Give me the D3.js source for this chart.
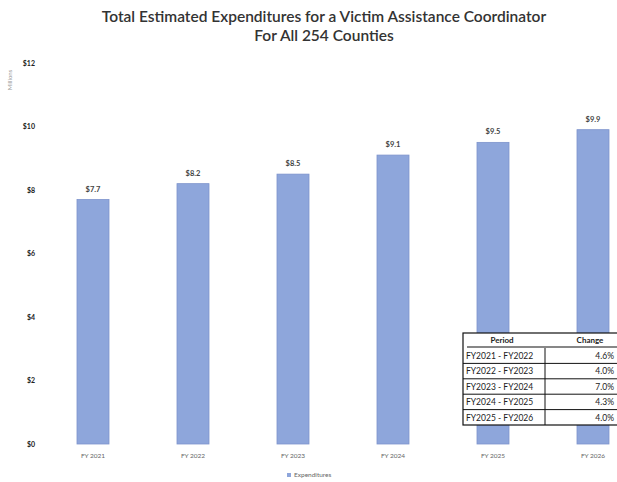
<!DOCTYPE html>
<html>
<head>
<meta charset="utf-8">
<script src="https://cdn.jsdelivr.net/npm/d3@7"></script>
<style>
  html, body { margin: 0; padding: 0; background: #fff; }
  svg { display: block; }
  text { font-family: Lato, "Open Sans", sans-serif; }
</style>
</head>
<body>
<svg id="chart" width="617" height="482"></svg>
<script>
// Annual totals, in millions of dollars
const years = ["FY 2021", "FY 2022", "FY 2023", "FY 2024", "FY 2025", "FY 2026"];
const expenditures = [7.7, 8.2, 8.5, 9.1, 9.5, 9.9];
const valueLabels = ["$7.7", "$8.2", "$8.5", "$9.1", "$9.5", "$9.9"];
const yTicks = [0, 2, 4, 6, 8, 10, 12];

// Year-over-year change table
const periods = ["FY2021 - FY2022", "FY2022 - FY2023", "FY2023 - FY2024", "FY2024 - FY2025", "FY2025 - FY2026"];
const changes = ["4.6%", "4.0%", "7.0%", "4.3%", "4.0%"];

const svg = d3.select("#chart");

const x = d3.scaleBand().domain(years).range([43, 643]).paddingInner(0.68).paddingOuter(0.34);
const y = d3.scaleLinear().domain([0, 12]).range([444, 63]);

// Title
const title = svg.append("g").attr("text-anchor", "middle")
  .style("font-family", "'Open Sans', sans-serif")
  .style("font-weight", "600").style("font-size", "15.5px").attr("fill", "#333");
title.append("text").attr("x", 324).attr("y", 22)
  .text("Total Estimated Expenditures for a Victim Assistance Coordinator");
title.append("text").attr("x", 324).attr("y", 41).text("For All 254 Counties");

// Y axis title
svg.append("text")
  .attr("transform", "translate(12,80) rotate(-90)")
  .attr("text-anchor", "middle")
  .attr("fill", "#9a9a9a").style("font-size", "6px")
  .text("Millions");

// Y axis (labels only)
const yAxis = d3.axisLeft(y).tickValues(yTicks).tickSize(0).tickFormat(d => "$" + d);
svg.append("g").attr("transform", "translate(38,0)").call(yAxis)
  .call(g => g.select(".domain").remove())
  .call(g => g.selectAll("text").attr("fill", "#222").style("font-size", "7px")
    .style("font-weight", "bold").style("font-family", "Lato, sans-serif"));

// Bars
svg.append("g").selectAll("rect").data(expenditures).join("rect")
  .attr("x", (d, i) => x(years[i]))
  .attr("y", d => y(d))
  .attr("width", x.bandwidth())
  .attr("height", d => y(0) - y(d))
  .attr("fill", "#8ea6db")
  .attr("stroke", "#7d93cc").attr("stroke-width", 0.8);

// Value labels
svg.append("g").selectAll("text").data(expenditures).join("text")
  .attr("x", (d, i) => x(years[i]) + x.bandwidth() / 2)
  .attr("y", d => y(d) - 8)
  .attr("text-anchor", "middle")
  .attr("fill", "#444").style("font-size", "7.5px").style("font-weight", "bold")
  .text((d, i) => valueLabels[i]);

// X axis (labels only)
const xAxis = d3.axisBottom(x).tickSize(0);
svg.append("g").attr("transform", "translate(0,450)").call(xAxis)
  .call(g => g.select(".domain").remove())
  .call(g => g.selectAll("text").attr("fill", "#666").style("font-size", "6.5px")
    .style("font-family", "Lato, sans-serif"));

// Legend
const lg = svg.append("g").attr("transform", "translate(287,477)");
lg.append("rect").attr("x", 0).attr("y", -4).attr("width", 4).attr("height", 4).attr("fill", "#8ea6db");
lg.append("text").attr("x", 7).attr("y", 0).attr("fill", "#666").style("font-size", "6.5px").text("Expenditures");

// Change table
const tx = 463, ty = 333, colSplit = 545, tRight = 640, headH = 15, rowH = 15.4;
const tg = svg.append("g");
tg.append("rect").attr("x", tx).attr("y", ty).attr("width", tRight - tx)
  .attr("height", headH + rowH * periods.length)
  .attr("fill", "#fff").attr("stroke", "#111").attr("stroke-width", 1.2);
tg.append("line").attr("x1", colSplit).attr("x2", colSplit)
  .attr("y1", ty + headH).attr("y2", ty + headH + rowH * periods.length)
  .attr("stroke", "#111").attr("stroke-width", 1);
tg.append("line").attr("x1", tx + 4).attr("x2", tRight).attr("y1", ty + headH - 1).attr("y2", ty + headH - 1)
  .attr("stroke", "#111").attr("stroke-width", 1.2);
periods.forEach((p, i) => {
  const top = ty + headH + rowH * i;
  if (i > 0) tg.append("line").attr("x1", tx).attr("x2", tRight).attr("y1", top).attr("y2", top)
    .attr("stroke", "#111").attr("stroke-width", 1);
  tg.append("text").attr("x", tx + 3).attr("y", top + 11).attr("fill", "#222")
    .style("font-size", "8.5px").text(p);
  tg.append("text").attr("x", 614).attr("y", top + 11).attr("text-anchor", "end").attr("fill", "#222")
    .style("font-size", "8.5px").text(changes[i]);
});
tg.append("text").attr("x", 502).attr("y", ty + 10).attr("text-anchor", "middle")
  .attr("fill", "#222").style("font-size", "8px").style("font-weight", "bold").text("Period");
tg.append("text").attr("x", 590).attr("y", ty + 10).attr("text-anchor", "middle")
  .attr("fill", "#222").style("font-size", "8px").style("font-weight", "bold").text("Change");
</script>
</body>
</html>
